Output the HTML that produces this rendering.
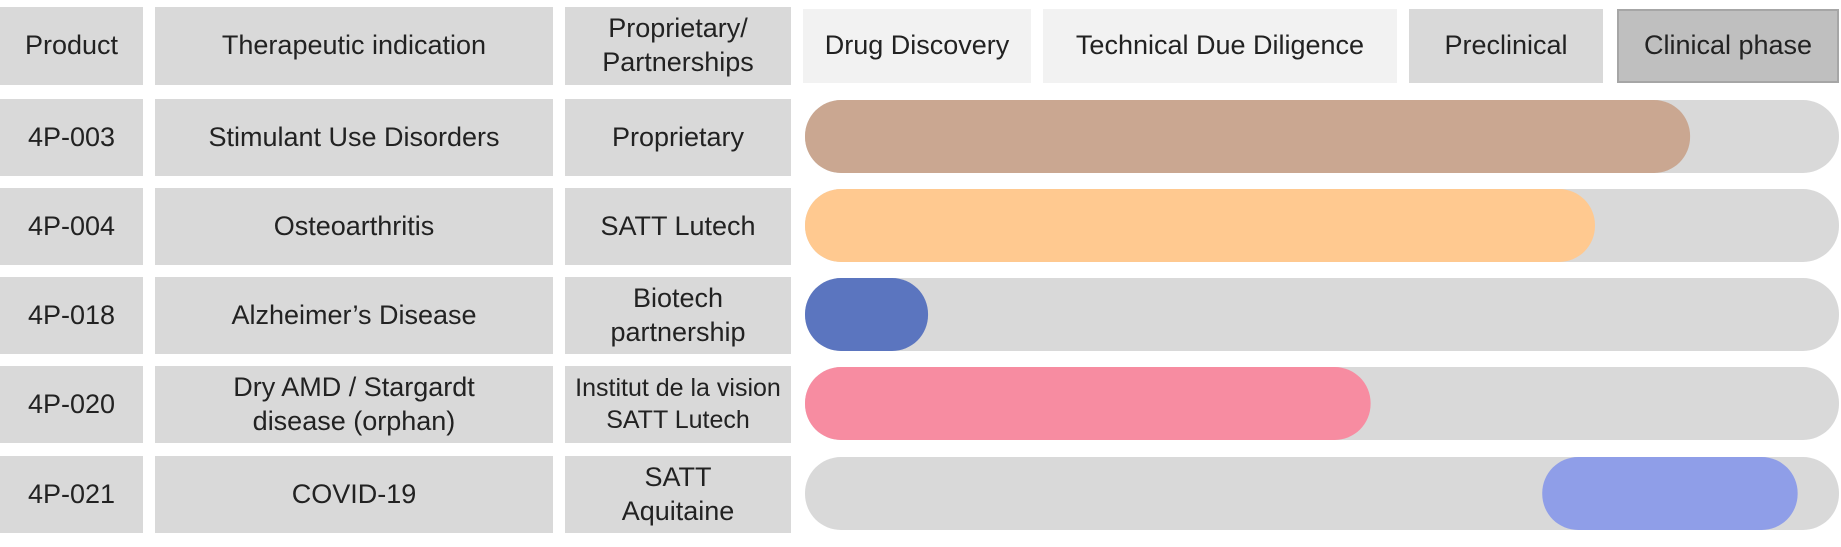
<!DOCTYPE html>
<html><head><meta charset="utf-8"><style>
body{margin:0;width:1841px;height:547px;background:#fff;overflow:hidden;font-family:"Liberation Sans",sans-serif;color:#222;}
.c{position:absolute;background:#d9d9d9;display:flex;align-items:center;justify-content:center;text-align:center;font-size:27px;line-height:1.25;}
</style></head><body>
<div id="root"></div>
<svg id="chart" width="1841" height="547" style="position:absolute;left:0;top:0"></svg>
<script>
const products=["4P-003","4P-004","4P-018","4P-020","4P-021"];
const indications=["Stimulant Use Disorders","Osteoarthritis","Alzheimer’s Disease","Dry AMD / Stargardt<br>disease (orphan)","COVID-19"];
const partners=["Proprietary","SATT Lutech","Biotech<br>partnership","Institut de la vision<br>SATT Lutech","SATT<br>Aquitaine"];
const barStart=[0,0,0,0,71.3];
const barEnd=[85.6,76.4,11.9,54.7,96];
const colors=["#caa791","#ffc990","#5b75bf","#f78ca1","#8f9ee8"];
const phases=["Drug Discovery","Technical Due Diligence","Preclinical","Clinical phase"];

const root=document.getElementById('root');
const svg=document.getElementById('chart');
const NS="http://www.w3.org/2000/svg";
const rowY=[99,188,277,366,456], rowH=77;
const x0=805,x1=1839;
function xs(v){return x0+(x1-x0)*v/100;}
function cell(x,y,w,h,html,name,bg,extra){
  const d=document.createElement('div');d.className='c';
  d.style.cssText=`left:${x}px;top:${y}px;width:${w}px;height:${h}px;`+(bg?`background:${bg};`:'')+(extra||'');
  d.innerHTML=html;
  
  
  root.appendChild(d);
}
cell(0,7,143,78,"Product","header-product");
cell(155,7,398,78,"Therapeutic indication","header-indication");
cell(565,7,226,78,"Proprietary/<br>Partnerships","header-partnerships");
const ph=[[803,228,"#f2f2f2"],[1043,354,"#f2f2f2"],[1409,194,"#d9d9d9"],[1617,222,"#bfbfbf"]];
phases.forEach((p,i)=>{cell(ph[i][0],9,ph[i][1],74,p,"phase-header-"+(i+1),ph[i][2],i==3?"box-sizing:border-box;border:2px solid #a6a6a6;":"");});
products.forEach((p,i)=>{
  const y=rowY[i];
  cell(0,y,143,rowH,p,"product-"+p);
  cell(155,y,398,rowH,indications[i],"indication-"+p);
  cell(565,y,226,rowH,partners[i],"partner-"+p,null,i==3?"font-size:25px;":"");
  const t=document.createElementNS(NS,'rect');
  t.setAttribute('x',x0);t.setAttribute('y',y+1);t.setAttribute('width',x1-x0);t.setAttribute('height',rowH-4);
  t.setAttribute('rx',36);t.setAttribute('fill','#d9d9d9');
  
  
  svg.appendChild(t);
  const b=document.createElementNS(NS,'rect');
  b.setAttribute('x',xs(barStart[i]));b.setAttribute('y',y+1);b.setAttribute('width',xs(barEnd[i])-xs(barStart[i]));b.setAttribute('height',rowH-4);
  b.setAttribute('rx',36);b.setAttribute('fill',colors[i]);
  
  
  svg.appendChild(b);
});
</script>
</body></html>
